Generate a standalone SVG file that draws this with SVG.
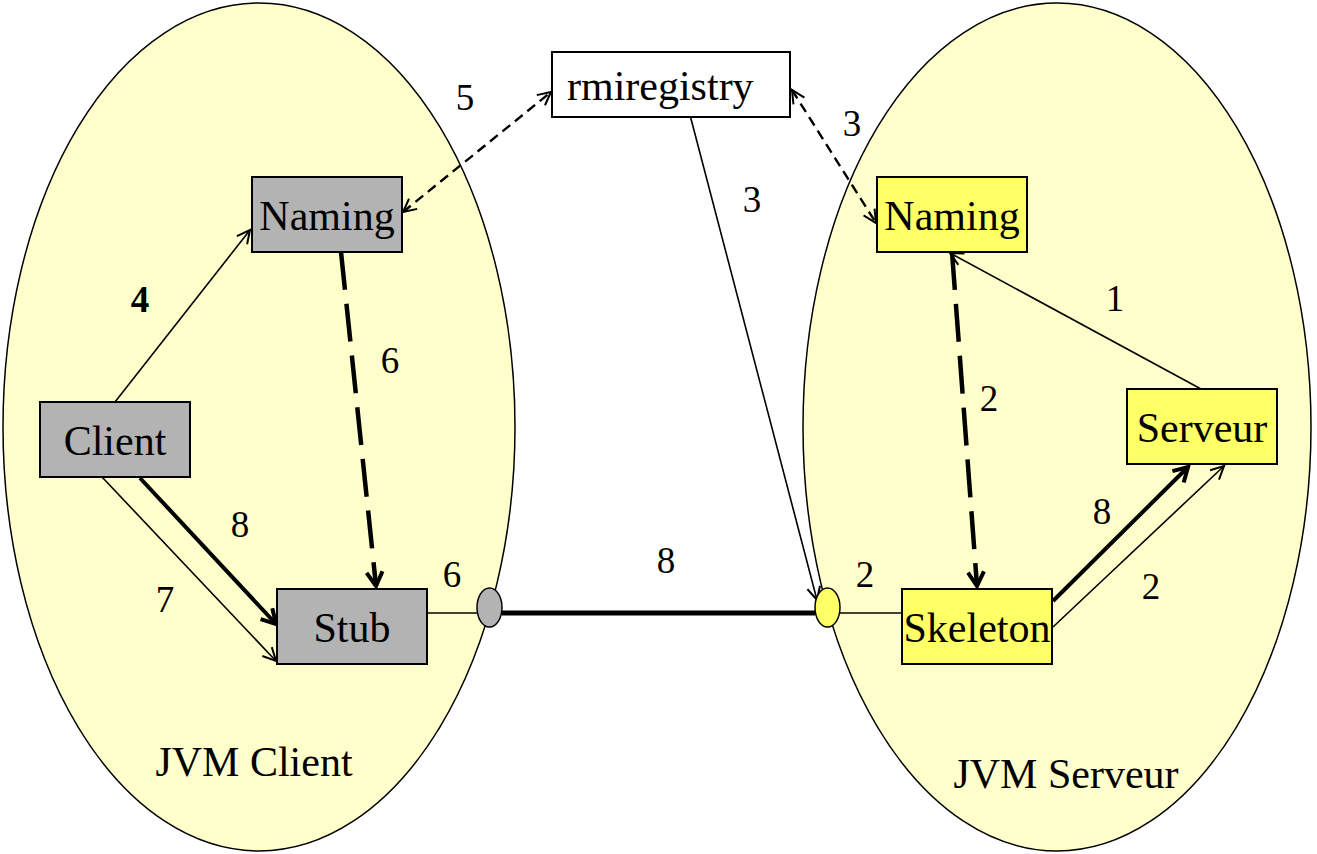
<svg xmlns="http://www.w3.org/2000/svg" width="1317" height="854" viewBox="0 0 1317 854">
<style>
.jvm{fill:#FFFFCC;stroke:#000;stroke-width:1.5}
.box{stroke:#000;stroke-width:2}
.gray{fill:#B3B3B3}
.yel{fill:#FFFF66}
.lbl{font-family:'Liberation Serif','Times New Roman',serif;font-size:42px;fill:#000;text-anchor:middle}
.num{font-family:'Liberation Serif','Times New Roman',serif;font-size:37px;fill:#000;text-anchor:middle}
.thin{stroke:#000;stroke-width:1.6;fill:none}
.thick{stroke:#000;stroke-width:4;fill:none}
.dash{stroke:#000;stroke-width:2.4;fill:none;stroke-dasharray:10 6}
.bigdash{stroke:#000;stroke-width:4.5;fill:none;stroke-dasharray:38 14}
</style>
<defs>
<marker id="a" markerUnits="userSpaceOnUse" markerWidth="30" markerHeight="30" refX="0" refY="0" viewBox="-15 -15 30 30" orient="auto-start-reverse">
<path d="M-13,-6.5 L0,0 L-13,6.5" fill="none" stroke="#000" stroke-width="2" stroke-dasharray="none"/>
</marker>
<marker id="b" markerUnits="userSpaceOnUse" markerWidth="40" markerHeight="40" refX="0" refY="0" viewBox="-20 -20 40 40" orient="auto">
<path d="M-14,-8 L0,0 L-14,8" fill="none" stroke="#000" stroke-width="4" stroke-dasharray="none"/>
</marker>
</defs>
<g id="jvm-client">
<ellipse class="jvm" cx="259" cy="427" rx="256" ry="424"/>
<text class="lbl" x="254" y="776">JVM Client</text>
</g>
<g id="jvm-serveur">
<ellipse class="jvm" cx="1057" cy="427" rx="254" ry="424"/>
<text class="lbl" x="1066" y="788">JVM Serveur</text>
</g>
<g id="connectors">
<line class="thin" x1="115" y1="402" x2="250" y2="230" marker-end="url(#a)"/>
<line class="thick" x1="140" y1="478" x2="276" y2="624" marker-end="url(#b)"/>
<line class="thin" x1="102" y1="477" x2="276" y2="661" marker-end="url(#a)"/>
<line class="bigdash" x1="341" y1="252" x2="376" y2="586" marker-end="url(#b)"/>
<line class="dash" x1="403" y1="212" x2="551" y2="92" marker-start="url(#a)" marker-end="url(#a)"/>
<line class="dash" x1="792" y1="90" x2="876" y2="223" marker-start="url(#a)" marker-end="url(#a)"/>
<line class="thin" x1="690" y1="115" x2="817" y2="600" marker-end="url(#a)"/>
<line class="thin" x1="427" y1="613" x2="477" y2="613"/>
<line x1="502" y1="613" x2="815" y2="613" stroke="#000" stroke-width="5"/>
<line class="thin" x1="840" y1="613" x2="902" y2="613"/>
<line class="bigdash" x1="952" y1="252" x2="977" y2="586" marker-end="url(#b)"/>
<line class="thin" x1="1201" y1="389" x2="950" y2="253" marker-end="url(#a)"/>
<line class="thick" x1="1053" y1="601" x2="1188" y2="467" marker-end="url(#b)"/>
<line class="thin" x1="1053" y1="627" x2="1224" y2="466" marker-end="url(#a)"/>
</g>
<g id="rmiregistry">
<rect class="box" x="552" y="52" width="238" height="65" fill="#fff"/>
<text class="lbl" x="567" y="100" style="text-anchor:start">rmiregistry</text>
</g>
<g id="naming-client">
<rect class="box gray" x="252" y="177" width="150" height="75"/>
<text class="lbl" x="327" y="230">Naming</text>
</g>
<g id="client">
<rect class="box gray" x="40" y="402" width="150" height="75"/>
<text class="lbl" x="115" y="455">Client</text>
</g>
<g id="stub">
<rect class="box gray" x="277" y="589" width="150" height="75"/>
<text class="lbl" x="352" y="642">Stub</text>
</g>
<g id="port-client">
<ellipse cx="489.5" cy="607.5" rx="12.5" ry="19.5" fill="#B3B3B3" stroke="#000" stroke-width="1.5"/>
</g>
<g id="port-serveur">
<ellipse cx="827.5" cy="607.5" rx="12.5" ry="19.5" fill="#FFFF66" stroke="#000" stroke-width="1.5"/>
</g>
<g id="naming-serveur">
<rect class="box yel" x="877" y="177" width="150" height="75"/>
<text class="lbl" x="952" y="230">Naming</text>
</g>
<g id="serveur">
<rect class="box yel" x="1127" y="389" width="150" height="75"/>
<text class="lbl" x="1202" y="442">Serveur</text>
</g>
<g id="skeleton">
<rect class="box yel" x="902" y="589" width="150" height="75"/>
<text class="lbl" x="977" y="642">Skeleton</text>
</g>
<g id="labels">
<text class="num" x="465" y="110">5</text>
<text class="num" x="852" y="136">3</text>
<text class="num" x="752" y="212">3</text>
<text class="num" x="140" y="312" font-weight="bold">4</text>
<text class="num" x="390" y="373">6</text>
<text class="num" x="240" y="537">8</text>
<text class="num" x="165" y="612">7</text>
<text class="num" x="452" y="587">6</text>
<text class="num" x="666" y="573">8</text>
<text class="num" x="865" y="587">2</text>
<text class="num" x="1115" y="311">1</text>
<text class="num" x="989" y="411">2</text>
<text class="num" x="1102" y="524">8</text>
<text class="num" x="1151" y="599">2</text>
</g>
</svg>
